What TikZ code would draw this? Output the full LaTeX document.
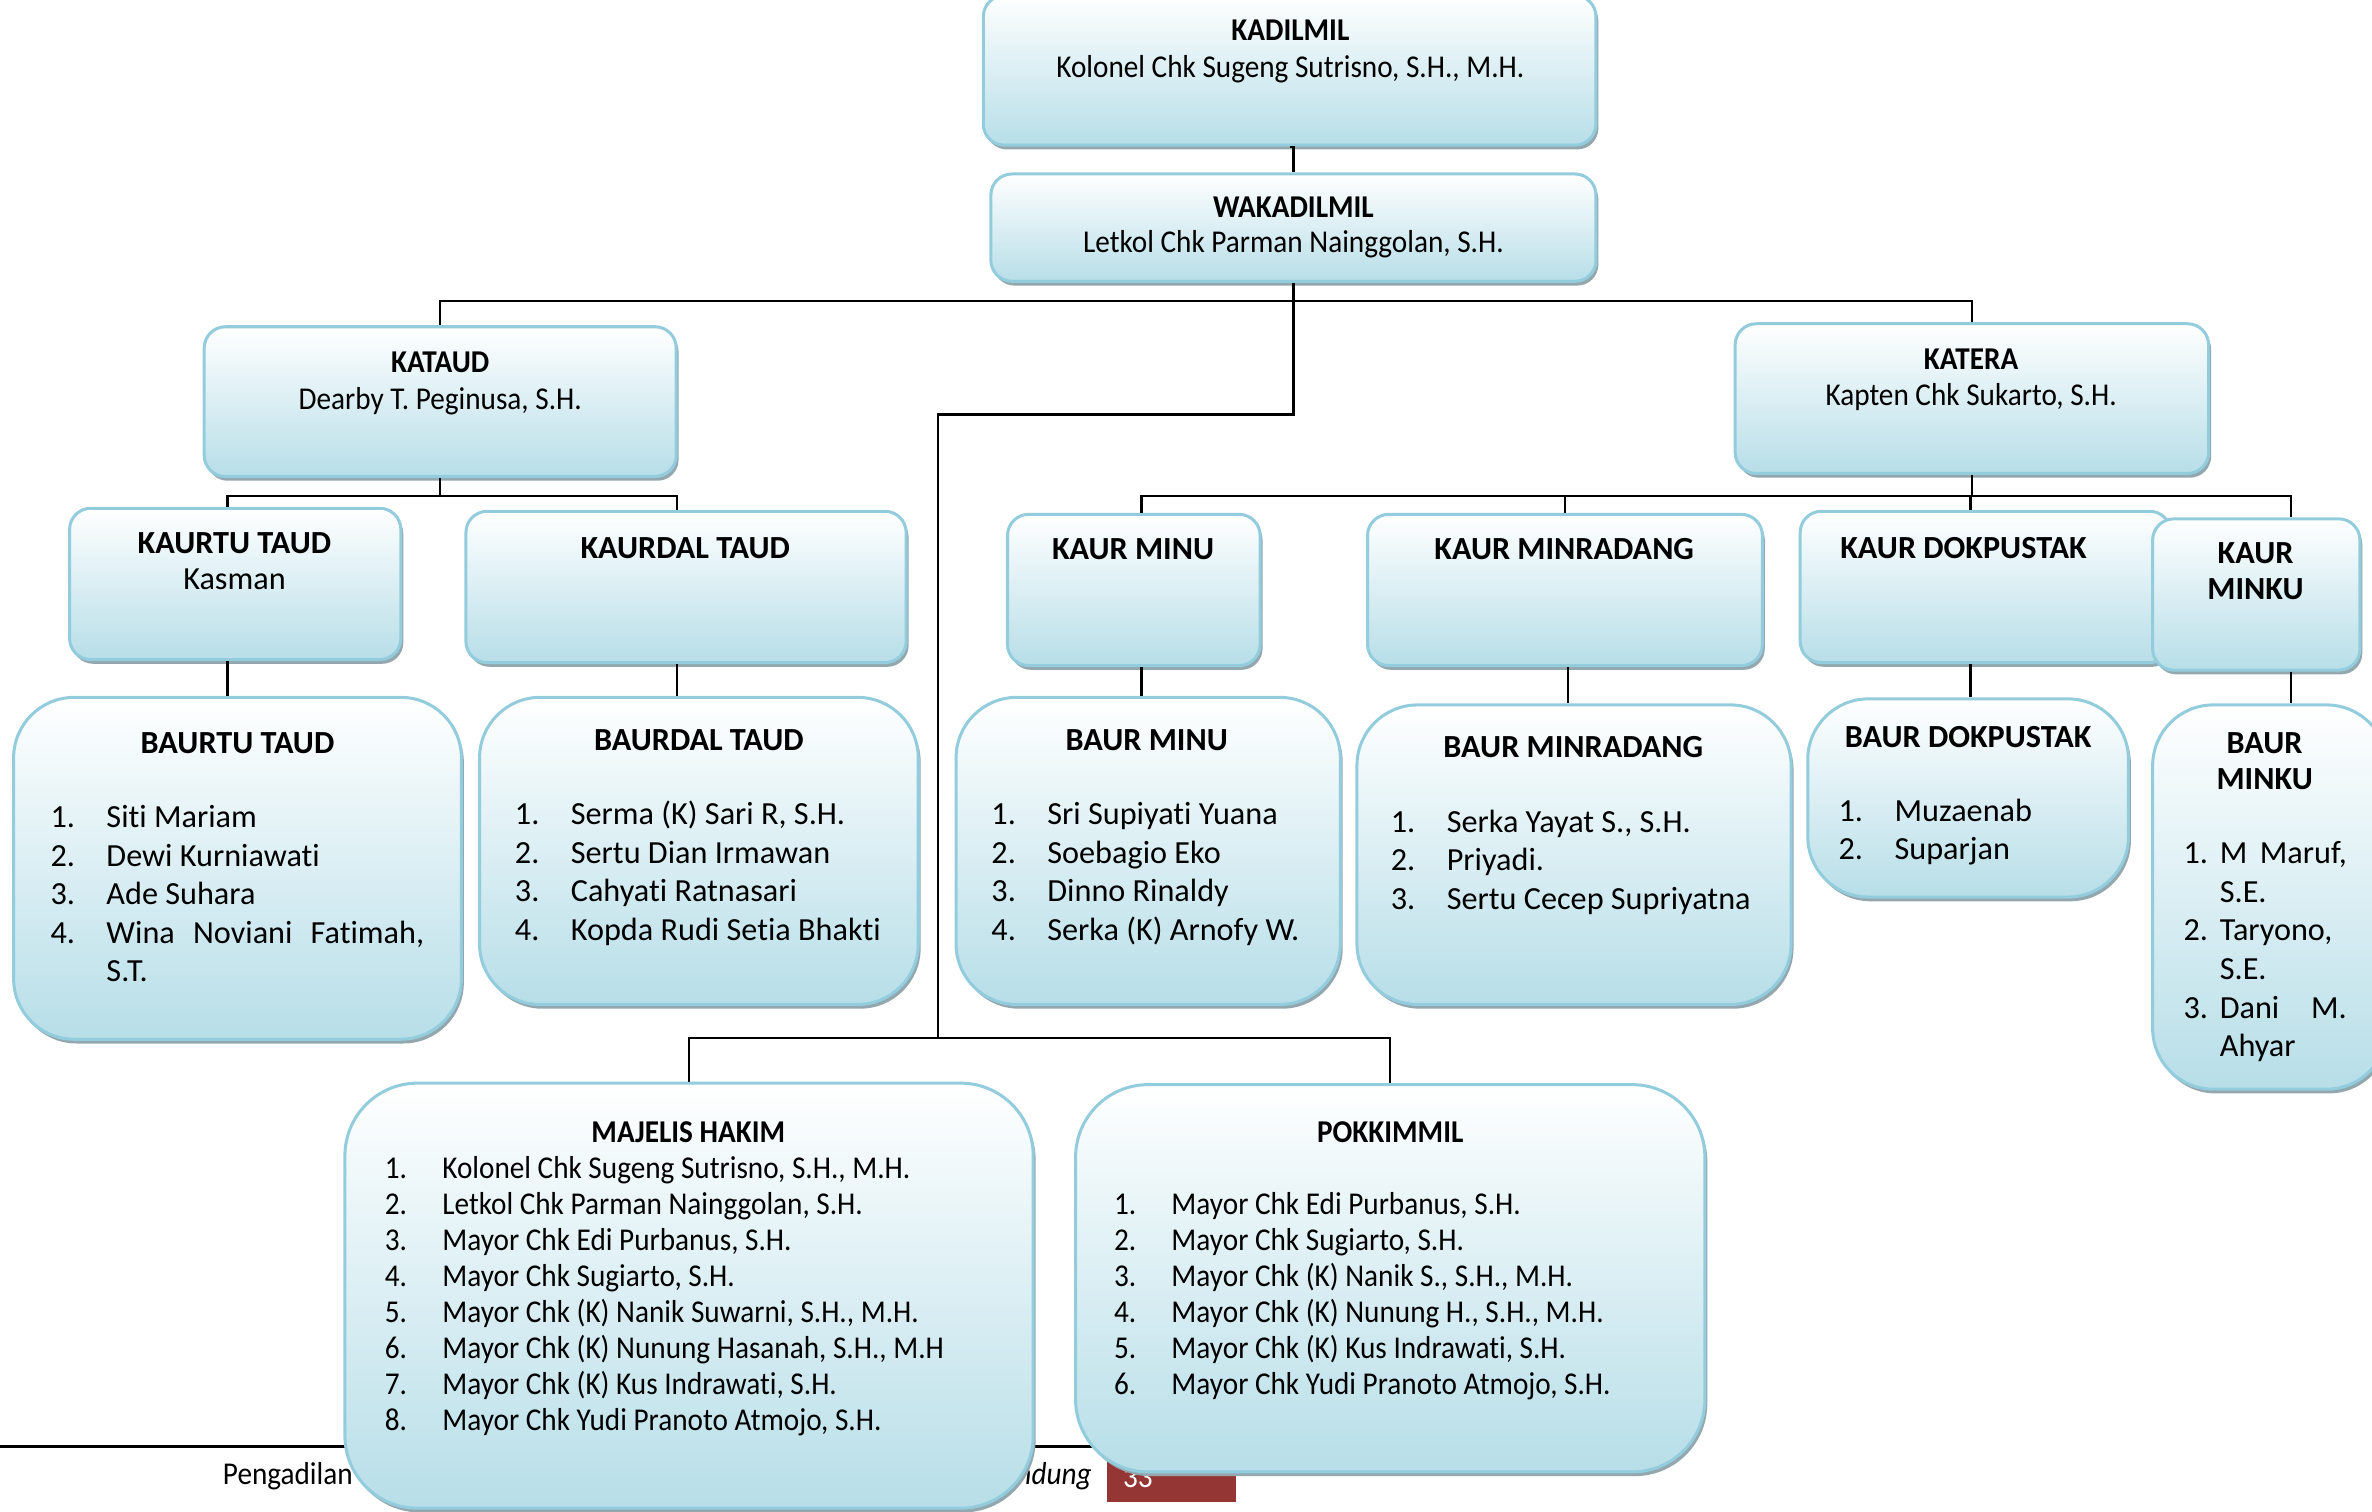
\documentclass[tikz,border=0pt]{standalone}
\usepackage{fontspec}
\setmainfont{Carlito}[Ligatures=NoCommon]
\newfontfamily\narrowfont[FakeStretch=0.92,Ligatures=NoCommon]{Carlito}
\usetikzlibrary{fit,shadows}

\definecolor{boxline}{HTML}{93CDDD}
\definecolor{boxfill}{HTML}{B7DEE8}
\definecolor{shadowgray}{HTML}{93A7AE}
\definecolor{footred}{HTML}{943634}

\tikzset{
  orgbox/.style={draw=boxline, line width=1pt, top color=white, bottom color=boxfill,
    rounded corners=7pt, inner sep=0pt,
    drop shadow={shadow xshift=0.8pt, shadow yshift=-1.4pt, fill=shadowgray, opacity=1}},
  listbox/.style={orgbox, rounded corners=20pt},
  bigbox/.style={orgbox, rounded corners=24pt},
  conn/.style={line width=0.8pt},
  toptitle/.style={anchor=base, inner sep=0pt, font=\narrowfont\bfseries\fontsize{10.5}{12}\selectfont},
  topname/.style={anchor=base, inner sep=0pt, font=\narrowfont\fontsize{10.5}{12}\selectfont},
  subtitle/.style={anchor=base, inner sep=0pt, font=\bfseries\fontsize{10.65}{11.8}\selectfont},
  subname/.style={anchor=base, inner sep=0pt, font=\fontsize{10.65}{12.75}\selectfont},
  itemtext/.style={anchor=base west, inner sep=0pt, font=\fontsize{10.65}{12.75}\selectfont},
  hakimtext/.style={anchor=base west, inner sep=0pt, font=\narrowfont\fontsize{10.5}{11.9}\selectfont},
  foottext/.style={inner sep=0pt, font=\narrowfont\fontsize{10.5}{12}\selectfont}
}

\begin{document}
\begin{tikzpicture}[x=0.5pt,y=-0.5pt]
\useasboundingbox (0,0) rectangle (1568,999);

% footer of the page
\draw[line width=0.9pt] (0,956) -- (1100,956);
\fill[footred] (732,958) rectangle (817,993);
\node[foottext, anchor=base west] (pengadilan) at (147,981) {Pengadilan};
\node[foottext, anchor=base east] (bandung) at (722,981) {\itshape ndung};
\node[foottext, anchor=base west, text=white] (halaman) at (742,983) {33};

% top
\node[orgbox, fit={(650,-3) (1055,96)}] (kadilmil) {};
\node[orgbox, fit={(655,115) (1055,186)}] (wakadilmil) {};
\node[orgbox, fit={(135,216) (447,315)}] (kataud) {};
\node[orgbox, fit={(1147,214) (1460,313)}] (katera) {};

% kaur
\node[orgbox, fit={(46,336) (265,436)}] (kaurtu) {};
\node[orgbox, fit={(308,338) (599,438)}] (kaurdal) {};
\node[orgbox, fit={(666,340) (833,440)}] (kaurminu) {};
\node[orgbox, fit={(904,340) (1165,440)}] (kaurminradang) {};
\node[orgbox, fit={(1190,338) (1435,438)}] (kaurdokpustak) {};
\node[orgbox, fit={(1423,343) (1560,443)}] (kaurminku) {};

% baur
\node[listbox, fit={(9,461) (305,687)}] (baurtu) {};
\node[listbox, fit={(317,461) (607,664)}] (baurdal) {};
\node[listbox, fit={(632,461) (886,664)}] (baurminu) {};
\node[listbox, fit={(897,466) (1184,664)}] (baurminradang) {};
\node[listbox, fit={(1195,462) (1407,593)}] (baurdokpustak) {};
\node[listbox, fit={(1423,466) (1578,720)}] (baurminku) {};

% majelis, pokkimmil
\node[bigbox, fit={(228,716) (683,997)}] (majelis) {};
\node[bigbox, fit={(711,717) (1127,973)}] (pokkimmil) {};

% lines
\coordinate (hakimbar) at (620,686);
\draw[conn] (kadilmil.south) -- (kadilmil.south -| wakadilmil.north) -- (wakadilmil.north);
\draw[conn] (wakadilmil.south) -- ++(0,12) -| (kataud.north);
\draw[conn] (wakadilmil.south) -- ++(0,12) -| (katera.north);
\draw[conn] (wakadilmil.south) -- ++(0,87) -| (hakimbar);
\draw[conn] (majelis.north) |- (hakimbar) -| (pokkimmil.north);

\draw[conn] (kataud.south) -- ++(0,12) -| ([xshift=-2.5pt]kaurtu.north);
\draw[conn] (kataud.south) -- ++(0,12) -| ([xshift=-3pt]kaurdal.north);
\draw[conn] (katera.south) -- ++(0,14) -| ([xshift=2.5pt]kaurminu.north);
\draw[conn] (katera.south) -- ++(0,14) -| (kaurminradang.north);
\draw[conn] (katera.south) -- ++(0,14) -| ([xshift=-5pt]kaurdokpustak.north);
\draw[conn] (katera.south) -- ++(0,14) -| ([xshift=11.5pt]kaurminku.north);

\draw[conn] ([xshift=-2.5pt]kaurtu.south) -- ([xshift=-2.5pt]kaurtu.south |- baurtu.north);
\draw[conn] ([xshift=-3pt]kaurdal.south) -- ([xshift=-3pt]kaurdal.south |- baurdal.north);
\draw[conn] ([xshift=2.5pt]kaurminu.south) -- ([xshift=2.5pt]kaurminu.south |- baurminu.north);
\draw[conn] ([xshift=1pt]kaurminradang.south) -- ([xshift=1pt]kaurminradang.south |- baurminradang.north);
\draw[conn] ([xshift=-5pt]kaurdokpustak.south) -- ([xshift=-5pt]kaurdokpustak.south |- baurdokpustak.north);
\draw[conn] ([xshift=11.5pt]kaurminku.south) -- ([xshift=11.5pt]kaurminku.south |- baurminku.north);

% texts
\node[toptitle] (kadilmilt) at (853,27) {KADILMIL};
\node[topname] (kadilmiln) at (853,51) {Kolonel Chk Sugeng Sutrisno, S.H., M.H.};
\node[toptitle] (wakadilmilt) at (855,144) {WAKADILMIL};
\node[topname] (wakadilmiln) at (855,167) {Letkol Chk Parman Nainggolan, S.H.};
\node[toptitle] (kataudt) at (291,246) {KATAUD};
\node[topname] (kataudn) at (291,271) {Dearby T. Peginusa, S.H.};
\node[toptitle] (katerat) at (1303,244) {KATERA};
\node[topname] (kateran) at (1303,268) {Kapten Chk Sukarto, S.H.};

\node[subtitle] (kaurtut) at (155,366) {KAURTU TAUD};
\node[subname] (kaurtun) at (155,390) {Kasman};
\node[subtitle] (kaurdalt) at (453,369) {KAURDAL TAUD};
\node[subtitle] (kaurminut) at (749,370) {KAUR MINU};
\node[subtitle] (kaurminradangt) at (1034,370) {KAUR MINRADANG};
\node[subtitle] (kaurdokpustakt) at (1298,369) {KAUR DOKPUSTAK};
\node[subtitle, align=center] (kaurminkut) at (1491,396) {KAUR\\MINKU};

\node[subtitle] (baurtut) at (157,498) {BAURTU TAUD};
\node[itemtext] (baurtul) at (33,547) {\begin{tabular}[t]{@{}p{18.5pt}@{}l@{}}
1. & Siti Mariam\\ 2. & Dewi Kurniawati\\ 3. & Ade Suhara\\
4. & \makebox[105pt][s]{Wina Noviani Fatimah,}\\ & S.T.\end{tabular}};

\node[subtitle] (baurdalt) at (462,496) {BAURDAL TAUD};
\node[itemtext] (baurdall) at (340,545) {\begin{tabular}[t]{@{}p{18.5pt}@{}l@{}}
1. & Serma (K) Sari R, S.H.\\ 2. & Sertu Dian Irmawan\\ 3. & Cahyati Ratnasari\\
4. & Kopda Rudi Setia Bhakti\end{tabular}};

\node[subtitle] (baurminut) at (758,496) {BAUR MINU};
\node[itemtext] (baurminul) at (655,545) {\begin{tabular}[t]{@{}p{18.5pt}@{}l@{}}
1. & Sri Supiyati Yuana\\ 2. & Soebagio Eko\\ 3. & Dinno Rinaldy\\
4. & Serka (K) Arnofy W.\end{tabular}};

\node[subtitle] (baurminradangt) at (1040,501) {BAUR MINRADANG};
\node[itemtext] (baurminradangl) at (919,550) {\begin{tabular}[t]{@{}p{18.5pt}@{}l@{}}
1. & Serka Yayat S., S.H.\\ 2. & Priyadi.\\ 3. & Sertu Cecep Supriyatna\end{tabular}};

\node[subtitle] (baurdokpustakt) at (1301,494) {BAUR DOKPUSTAK};
\node[itemtext] (baurdokpustakl) at (1215,543) {\begin{tabular}[t]{@{}p{18.5pt}@{}l@{}}
1. & Muzaenab\\ 2. & Suparjan\end{tabular}};

\node[subtitle, align=center] (baurminkut) at (1497,522) {BAUR\\MINKU};
\node[itemtext] (baurminkul) at (1443,571) {\begin{tabular}[t]{@{}p{12pt}@{}l@{}}
1. & \makebox[42pt][s]{M Maruf,}\\ & S.E.\\ 2. & Taryono,\\ & S.E.\\
3. & \makebox[42pt][s]{Dani M.}\\ & Ahyar\end{tabular}};

\node[subtitle, font=\narrowfont\bfseries\fontsize{10.5}{12}\selectfont] (majelist) at (455,755) {MAJELIS HAKIM};
\node[hakimtext] (majelisl) at (254,779) {\begin{tabular}[t]{@{}p{19pt}@{}l@{}}
1. & Kolonel Chk Sugeng Sutrisno, S.H., M.H.\\
2. & Letkol Chk Parman Nainggolan, S.H.\\
3. & Mayor Chk Edi Purbanus, S.H.\\
4. & Mayor Chk Sugiarto, S.H.\\
5. & Mayor Chk (K) Nanik Suwarni, S.H., M.H.\\
6. & Mayor Chk (K) Nunung Hasanah, S.H., M.H\\
7. & Mayor Chk (K) Kus Indrawati, S.H.\\
8. & Mayor Chk Yudi Pranoto Atmojo, S.H.\end{tabular}};

\node[subtitle, font=\narrowfont\bfseries\fontsize{10.5}{12}\selectfont] (pokkimmilt) at (919,755) {POKKIMMIL};
\node[hakimtext] (pokkimmill) at (736,803) {\begin{tabular}[t]{@{}p{19pt}@{}l@{}}
1. & Mayor Chk Edi Purbanus, S.H.\\
2. & Mayor Chk Sugiarto, S.H.\\
3. & Mayor Chk (K) Nanik S., S.H., M.H.\\
4. & Mayor Chk (K) Nunung H., S.H., M.H.\\
5. & Mayor Chk (K) Kus Indrawati, S.H.\\
6. & Mayor Chk Yudi Pranoto Atmojo, S.H.\end{tabular}};
\end{tikzpicture}
\end{document}
